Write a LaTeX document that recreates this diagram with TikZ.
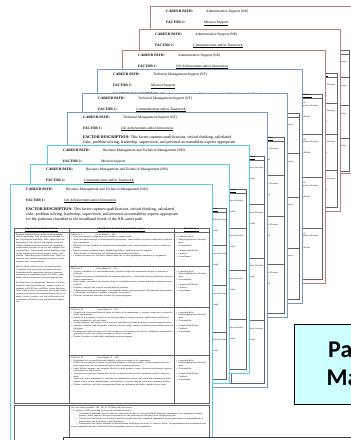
\documentclass[tikz,border=0pt]{standalone}
\usepackage{fontspec}
\setmainfont{Liberation Serif}
\newfontfamily\calloutfont{Carlito}
\usepackage{tikz}
\usetikzlibrary{calc}
\pgfdeclarelayer{pagelayer}
\pgfsetlayers{pagelayer,main}
\definecolor{pagered}{RGB}{196,122,122}
\definecolor{pageblue}{RGB}{122,152,196}
\definecolor{pagecyan}{RGB}{92,200,244}
\definecolor{tablegray}{RGB}{100,100,100}
\definecolor{calloutcyan}{RGB}{204,255,255}
\tikzstyle{pageframe}=[fill=white, line width=1pt]
\tikzset{hdr/.style={anchor=base west, inner sep=0pt, font=\fontsize{3.6}{4.2}\selectfont\bfseries}}
\tikzset{hdrval/.style={anchor=base west, inner sep=0pt, font=\fontsize{3.6}{4.2}\selectfont}}
\tikzset{desc/.style={anchor=north west, inner sep=0pt, align=left, font=\fontsize{4}{5}\selectfont}}
\tikzset{tbl/.style={draw=tablegray, line width=1pt}}
\tikzset{colhead/.style={inner sep=0pt, font=\fontsize{2.4}{2.8}\selectfont\bfseries}}
\tikzset{cell/.style={anchor=north west, inner sep=0pt, align=left, font=\fontsize{2.2}{2.7}\selectfont}}
\tikzset{callout/.style={draw=black, line width=1.2pt, fill=calloutcyan, inner sep=0pt}}
\tikzset{calloutlabel/.style={anchor=base west, inner sep=0pt, font=\calloutfont\fontsize{24}{28}\selectfont\bfseries}}
\tikzset{lowerbox/.style={draw=black!75, line width=1.2pt, fill=white, inner sep=0pt}}
% bullets for the small table text
\newcommand{\bitem}{\par\hangindent=2.5pt\hangafter=1\noindent\makebox[2.5pt][l]{\textbullet}}
\newcommand{\bsub}{\par\hangindent=8pt\hangafter=1\noindent\hspace*{5pt}\makebox[3pt][l]{\textbullet}}
\newcommand{\critbody}{Positions classified herein, in the overall broadband, with the appropriate level of supervision through the use of appropriate knowledge, skills, abilities and understanding of the technical requirements of the job. Utilizes, demonstrates and maintains the appropriate qualifications necessary to execute and complete their responsibilities. Demonstrates critical thinking in identifying, analyzing and solving complex issues in the position. Takes and applies calculated risk. Plans, coordinates and evaluates programs and projects within assigned areas of responsibility.\par\vspace{2.7pt}
Work is timely, efficient and of acceptable quality. Completed work meets project/program objectives. Leadership and/or supervision effectively promotes commitment to organization goals. Flexibility, adaptability, and decisiveness are exercised appropriately.\par\vspace{2.7pt}
For Supervisors (as appropriate): Exercises, develops, motivates, and trains employees. Assigns work in accordance with EEO laws and Merit System Principles. Takes timely action on performance and conduct issues; communicates mission and organizational goals; by example, creates a positive, safe, and challenging work environment; distributes work and empowers employees.}
\newcommand{\levelI}{\pcode{} Level I\hspace{14pt}(Score Range 0 -- 28)
\bitem Plans and completes assignments to contribute to assigned tasks.
\bitem Seeks and takes advantage of developmental opportunities. Takes initiative to pursue completion of qualification requirements.
\bitem Effectively accepts feedback on assigned and accomplished work, and incorporates it to create a viable end product.
\bitem Resolves routine problems within established guidelines. Seeks assistance as required.
\bitem Takes initiative in determining and implementing appropriate procedures.
\bitem Conducts activities on a task basis; ensures input into, or other appropriate completion of, assignments.}
\newcommand{\levelII}{\pcode{} Level II\hspace{14pt}(Score Range 22 -- 66)
\bitem Actively contributes as a team member/leader; provides insight and recommends changes or solutions to problems.
\bitem Identifies and pursues individual/team development opportunities. Assists and mentors qualification and certification requirements.
\bitem Plans, guides, coordinates, and controls efforts to accomplish projects, ensuring timeliness of prototypes and products.
\bitem Identifies, analyzes, and resolves complex/difficult problems.
\bitem Adapts existing plans and techniques to accomplish complex projects/programs. Recommends improvements to the design or operation of systems, equipment, or processes.
\bitem Plans and coordinates functional activities for projects/programs.}
\newcommand{\levelIII}{\pcode{} Level III\hspace{14pt}(Score Range 61 -- 83)
\bitem Consulted as a functional/technical expert for others in the organization; is regularly sought out by others for advice and assistance.
\bitem Fosters the development of others by providing guidance or sharing expertise, qualifications, and developmental programs for self and others.
\bitem Guides, motivates, and oversees the activities of individuals and teams with focus on project/program issues.
\bitem Identifies, integrates, and implements solutions to diverse, highly complex problems across multiple areas and disciplines.
\bitem Develops plans and techniques to fix and strengthen overall program and policies. Emphasizes procedures in application of processes serving techniques to achieve outcomes.
\bitem Defines, develops, or leads highly challenging projects/programs.}
\newcommand{\levelIV}{\pcode{} Level IV\hspace{14pt}(Score Range 79 -- 100)
\bitem Recognized as a technical/functional authority within and outside of the organization.
\bitem Fosters the development of others by providing guidance or sharing expertise. Creates integrated development opportunities and sets functional goals to meet organizational needs.
\bitem Leads, defines, manages, and integrates efforts of several groups or teams. Structures and manages organizational objectives and resources.
\bitem Anticipates and provides strategic direction for resolution of mission-critical problems, policies, and procedures.
\bitem Works with senior management to establish new fundamental concepts and criteria and stimulates the development of new policies, methodologies, and techniques. Converts strategic goals into programs or policies.
\bitem Defines, establishes, and directs organizational focus on challenging and highly complex project areas.}
\newcommand{\discr}{\bitem Leadership Role \bitem Mentoring/Employee Development \bitem Accountability\par\vspace{3pt}\bitem Complexity/Difficulty \bitem Creativity \bitem Scope/Impact}
% one page of the stack: name, left, top, right, bottom, colour, factor no., factor, table bottom
\newcommand{\docpage}[9]{%
  \pgfmathsetmacro{\pgW}{#4-#2}%
  \pgfmathsetmacro{\pgH}{#5-#3}%
  \pgfmathsetmacro{\tabB}{#9-#3}%
  \pgfmathsetmacro{\tabR}{\pgW-3}%
  \pgfmathsetmacro{\rowA}{48+(\tabB-48)*0.2}%
  \pgfmathsetmacro{\rowB}{48+(\tabB-48)*0.44}%
  \pgfmathsetmacro{\rowC}{48+(\tabB-48)*0.72}%
  \begin{scope}[shift={(#2,#3)}]
    \draw[pageframe, draw=#6] (0,0) rectangle (\pgW,\pgH);
    \node[hdr] (#1-cp) at (16,6.5) {CAREER PATH:};
    \node[hdrval] (#1-cv) at (56,6.5) {\career};
    \node[hdr] (#1-f) at (16,17) {FACTOR #7:};
    \node[hdrval] (#1-fv) at (54,17) {\underline{#8}};
    \node[desc] (#1-d) at (16,23.5) {\textbf{FACTOR DESCRIPTION:} This factor captures qualifications, critical thinking, calculated\\ risks, problem solving, leadership, supervision, and personal accountability aspects appropriate\\ for the positions classified to the broadband levels of the \pcode{} career path.};
    \draw[tbl] (4,44) rectangle (\tabR,\tabB);
    \draw[tbl] (4,48) -- (\tabR,48);
    \draw[tbl] (59,44) -- (59,\tabB);
    \draw[tbl] (164,44) -- (164,\tabB);
    \draw[tbl] (59,\rowA) -- (\tabR,\rowA);
    \draw[tbl] (59,\rowB) -- (\tabR,\rowB);
    \draw[tbl] (59,\rowC) -- (\tabR,\rowC);
    \node[colhead] (#1-h1) at (31.5,46) {\underline{Expected Contribution Criteria}};
    \node[colhead] (#1-h2) at (111.5,46) {\underline{Classification Level and Appraisal Descriptors}};
    \node[colhead] (#1-h3) at ({(164+\tabR)/2},46) {\underline{Discriminators}};
    \node[cell, text width=51pt] (#1-c) at (6,49.5) {\critbody};
    \node[cell, text width=102pt] (#1-l1) at (61,49.5) {\levelI};
    \node[cell, text width=102pt] (#1-l2) at (61,{\rowA+1.5}) {\levelII};
    \node[cell, text width=102pt] (#1-l3) at (61,{\rowB+1.5}) {\levelIII};
    \node[cell, text width=102pt] (#1-l4) at (61,{\rowC+1.5}) {\levelIV};
    \node[cell, text width=32pt] (#1-s1) at (166,51) {\discr};
    \node[cell, text width=32pt] (#1-s2) at (166,{\rowA+3}) {\discr};
    \node[cell, text width=32pt] (#1-s3) at (166,{\rowB+3}) {\discr};
    \node[cell, text width=32pt] (#1-s4) at (166,{\rowC+3}) {\discr};
  \end{scope}}

\begin{document}
\begin{tikzpicture}[x=1pt, y=-1pt]
    \useasboundingbox (0,0) rectangle (351,440);
    \clip (0,0) rectangle (351,440);
    \begin{pgfonlayer}{pagelayer}
        % administrative support, back of the stack
        \def\career{Administrative Support (NE)}\def\pcode{NE}
        \docpage{p1}{150}{6}{352}{173}{pagered}{3}{Mission Support}{171}
        \docpage{p2}{139}{29}{340}{211}{pagered}{2}{Communication and/or Teamwork}{207}
        \docpage{p3}{122}{50}{325}{283}{pagered}{1}{Job Achievement and/or Innovation}{279}
        % technical management support
        \def\career{Technical Management Support (NT)}\def\pcode{NT}
        \docpage{p4}{97}{69}{302}{303}{pageblue}{3}{Mission Support}{299}
        \docpage{p5}{82}{93}{287}{317}{pageblue}{2}{Communication and/or Teamwork}{313}
        \docpage{p6}{67}{112}{267}{387}{pageblue}{1}{Job Achievement and/or Innovation}{383}
        % business management, front of the stack
        \def\career{Business Management and Technical Management (NH)}\def\pcode{NH}
        \docpage{p7}{47}{145}{249}{373}{pagecyan}{3}{Mission Support}{369}
        \docpage{p8}{30}{164}{229}{383}{pagecyan}{2}{Communication and/or Teamwork}{379}
        \docpage{p9}{10}{184}{212}{470}{pagecyan}{1}{Job Achievement and/or Innovation}{403}
        \draw[tbl] (14,405) rectangle (209,470);
        \draw[tbl] (69,405) -- (69,470);
        \node[cell, text width=136pt] (p9-note) at (71,407) {(To score above available: 100, 116, or 125 Notes only are scores)
        \bitem In addition to NH controlling the expected contribution criteria:
        \bsub Contributed significantly beyond what was expected in the face of extremely difficult obstacles; contributions were exemplary in quality, quantity, and/or impact to the stated expectations for the grade/function described in the classification plan.
        \bsub Created novel and innovative techniques, methods and processes that contributed substantially beyond expectations to accomplishment of mission tasks and the mission of the organization.
        \bsub Demonstrated the highest standards of professionalism establishing the model for others to follow. Accomplishments and contributions were of such magnitude that they contributed to the extraordinary success of the organization.};
    \end{pgfonlayer}
    \node[callout, anchor=north west, minimum width=70pt, minimum height=80pt] (box) at (294,324) {};
    \node[calloutlabel] (pa) at (328,357) {Pa};
    \node[calloutlabel] (ma) at (326.5,385) {Ma};
    \node[lowerbox, anchor=north west, minimum width=300pt, minimum height=20pt] (lower) at (63,437) {};
\end{tikzpicture}
\end{document}
